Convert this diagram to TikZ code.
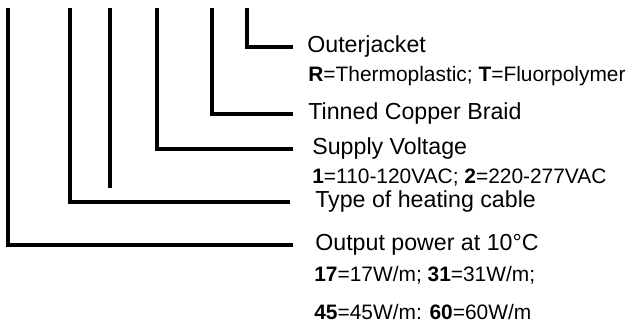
\documentclass[tikz,border=0pt]{standalone}
\usepackage{fontspec}
\setmainfont{Liberation Sans}
\usetikzlibrary{positioning, calc}

\begin{document}
\begin{tikzpicture}[
  x=0.02cm, y=-0.02cm,
  lead/.style={draw=black, line width=1.9pt},
  title/.style={anchor=west, inner xsep=0.3cm, inner ysep=0pt, font=\fontsize{13.2}{15}\selectfont},
  sub/.style={anchor=west, inner xsep=0pt, inner ysep=0pt, font=\fontsize{11.9}{14}\selectfont}
]
  \useasboundingbox (0,0) rectangle (631,327);

  % labels
  \node[title, inner xsep=0.28cm] (outer) at (293, 47) {Outerjacket};
  \node[sub] (outersub) at (308, 76) {\textbf{R}=Thermoplastic; \textbf{T}=Fluorpolymer};
  \node[title, inner xsep=0.3cm] (braid) at (293, 114) {Tinned Copper Braid};
  \node[title, inner xsep=0.38cm] (volt) at (293, 149) {Supply Voltage};
  \node[sub] (voltsub) at (312, 178) {\textbf{1}=110-120VAC; \textbf{2}=220-277VAC};
  \node[title, inner xsep=0.5cm] (type) at (290, 202) {Type of heating cable};
  \node[title, inner xsep=0.44cm] (power) at (293, 245) {Output power at 10°C};
  \node[sub] (powsub1) at (314, 275) {\textbf{17}=17W/m; \textbf{31}=31W/m;};
  \node[sub] (powsub2) at (314, 312) {\textbf{45}=45W/m: \textbf{60}=60W/m};

  % tops of the leads
  \coordinate (p1) at (8, 8);
  \coordinate (p2) at (70, 8);
  \coordinate (p3) at (110, 8);
  \coordinate (p3end) at (110, 188);
  \coordinate (p4) at (157, 8);
  \coordinate (p5) at (212, 8);
  \coordinate (p6) at (247, 8);

  \draw[lead] (p1) |- (power.west);
  \draw[lead] (p2) |- (type.west);
  \draw[lead] (p3) -- (p3end);
  \draw[lead] (p4) |- (volt.west);
  \draw[lead] (p5) |- (braid.west);
  \draw[lead] (p6) |- (outer.west);
\end{tikzpicture}
\end{document}
